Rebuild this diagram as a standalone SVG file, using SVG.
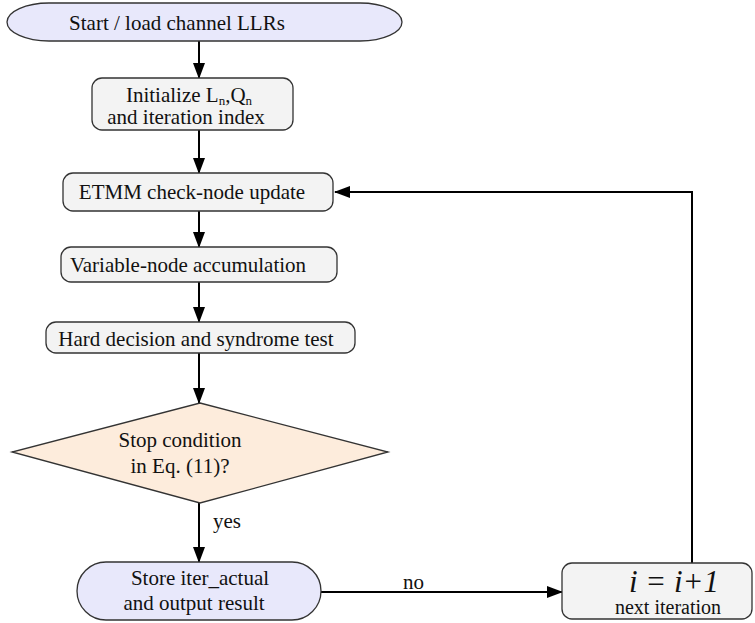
<svg xmlns="http://www.w3.org/2000/svg" width="755" height="623" viewBox="0 0 755 623">
  <style>
    .t { font-family: "Liberation Serif", "Times New Roman", serif; font-size: 21px; fill: #111; }
    .sub { font-size: 13px; }
    .big { font-size: 31px; font-style: italic; }
    .small { font-size: 20px; }
    .term { fill: #e8e8fb; stroke: #333; stroke-width: 1.3; }
    .proc { fill: #f3f3f3; stroke: #333; stroke-width: 1.3; }
    .dec { fill: #fdecdc; stroke: #333; stroke-width: 1.3; }
    .edge { fill: none; stroke: #000; stroke-width: 2; }
  </style>
  <defs>
    <marker id="arrow" markerWidth="16" markerHeight="12" refX="15" refY="6" orient="auto" markerUnits="userSpaceOnUse">
      <path d="M0,0 L16,6 L0,12 Z" fill="#000"/>
    </marker>
  </defs>
  <rect width="755" height="623" fill="#fff"/>

  <!-- connectors -->
  <g id="connectors">
    <line class="edge" x1="199" y1="41" x2="199" y2="78" marker-end="url(#arrow)"/>
    <line class="edge" x1="199" y1="130" x2="199" y2="173" marker-end="url(#arrow)"/>
    <line class="edge" x1="199" y1="211" x2="199" y2="247" marker-end="url(#arrow)"/>
    <line class="edge" x1="199" y1="282" x2="199" y2="322" marker-end="url(#arrow)"/>
    <line class="edge" x1="199" y1="353" x2="199" y2="403" marker-end="url(#arrow)"/>
    <line class="edge" x1="199" y1="503" x2="199" y2="562" marker-end="url(#arrow)"/>
    <text class="t" x="213" y="528">yes</text>
    <line class="edge" x1="321" y1="592" x2="562" y2="592" marker-end="url(#arrow)"/>
    <text class="t" x="403" y="589">no</text>
    <polyline class="edge" points="692,563 692,192 335,192" marker-end="url(#arrow)"/>
  </g>

  <g id="start">
    <rect class="term" x="7" y="3" width="395" height="38" rx="42" ry="19"/>
    <text class="t" x="177" y="30" text-anchor="middle">Start / load channel LLRs</text>
  </g>

  <g id="init">
    <rect class="proc" x="92" y="78" width="201" height="52" rx="10"/>
    <text class="t" x="189" y="102" text-anchor="middle">Initialize L<tspan class="sub" dy="3">n</tspan><tspan dy="-3">,Q</tspan><tspan class="sub" dy="3">n</tspan></text>
    <text class="t" x="186" y="124" text-anchor="middle">and iteration index</text>
  </g>

  <g id="check-node">
    <rect class="proc" x="63" y="173" width="270" height="38" rx="10"/>
    <text class="t" x="192" y="199" text-anchor="middle">ETMM check-node update</text>
  </g>

  <g id="variable-node">
    <rect class="proc" x="61" y="247" width="276" height="35" rx="10"/>
    <text class="t" x="188" y="272" text-anchor="middle">Variable-node accumulation</text>
  </g>

  <g id="hard-decision">
    <rect class="proc" x="46" y="322" width="309" height="31" rx="10"/>
    <text class="t" x="196" y="346" text-anchor="middle">Hard decision and syndrome test</text>
  </g>

  <g id="stop-check">
    <polygon class="dec" points="200,403 388,452 200,503 12,452"/>
    <text class="t" x="180" y="447" text-anchor="middle">Stop condition</text>
    <text class="t" x="180" y="473" text-anchor="middle">in Eq. (11)?</text>
  </g>

  <g id="store">
    <rect class="term" x="77" y="562" width="244" height="58" rx="29"/>
    <text class="t" x="200" y="585" text-anchor="middle">Store iter_actual</text>
    <text class="t" x="194" y="610" text-anchor="middle">and output result</text>
  </g>

  <g id="next-iteration">
    <rect class="proc" x="562" y="563" width="190" height="56" rx="10"/>
    <text class="t big" x="674" y="592" text-anchor="middle">i = i+1</text>
    <text class="t small" x="668" y="614" text-anchor="middle">next iteration</text>
  </g>
</svg>
